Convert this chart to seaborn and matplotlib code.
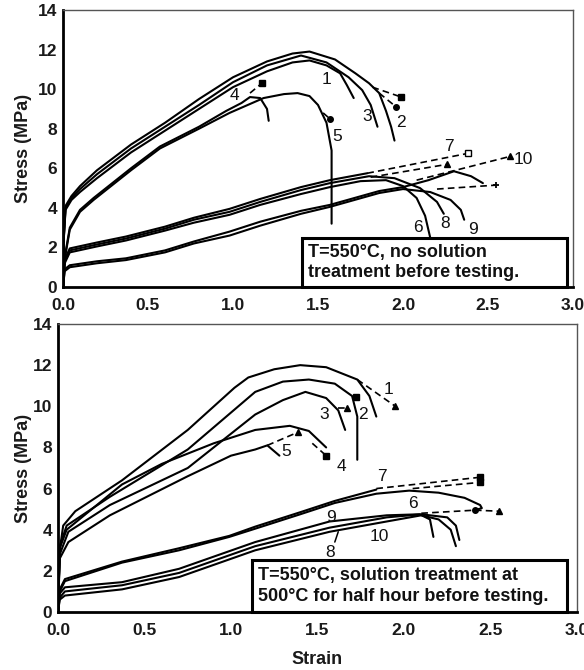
import matplotlib
matplotlib.use("Agg")
import matplotlib.pyplot as plt
from matplotlib.patches import Rectangle
import seaborn as sns

# ---------------- T=550C, no solution treatment (upper panel) ----------------
a1_strain = [0, 0.005, 0.015, 0.05, 0.1, 0.2, 0.4, 0.6, 0.8, 1.0, 1.2, 1.35, 1.45, 1.55, 1.63, 1.67, 1.71]
a1_stress = [0, 2.5, 3.9, 4.4, 4.8, 5.5, 6.8, 7.9, 9.0, 10.1, 10.9, 11.35, 11.45, 11.2, 10.8, 10.2, 9.55]
a2_strain = [0, 0.005, 0.015, 0.05, 0.1, 0.2, 0.4, 0.6, 0.8, 1.0, 1.2, 1.35, 1.45, 1.6, 1.72, 1.8, 1.86, 1.9, 1.93, 1.95]
a2_stress = [0, 2.6, 4.1, 4.6, 5.1, 5.9, 7.2, 8.3, 9.5, 10.6, 11.4, 11.8, 11.9, 11.5, 10.8, 10.3, 9.8, 8.9, 8.1, 7.4]
a3_strain = [0, 0.005, 0.015, 0.05, 0.1, 0.2, 0.4, 0.6, 0.8, 1.0, 1.2, 1.4, 1.55, 1.68, 1.76, 1.81, 1.85]
a3_stress = [0, 2.5, 4.0, 4.5, 4.95, 5.7, 7.0, 8.1, 9.2, 10.35, 11.2, 11.7, 11.35, 10.6, 9.95, 9.2, 8.1]
a4_strain = [0, 0.01, 0.04, 0.1, 0.18, 0.4, 0.57, 0.8, 0.96, 1.05, 1.1, 1.16, 1.2, 1.21]
a4_stress = [0, 1.5, 3.0, 3.9, 4.5, 6.0, 7.1, 8.1, 8.9, 9.3, 9.6, 9.55, 9.0, 8.4]
a5_strain = [0, 0.01, 0.04, 0.1, 0.18, 0.4, 0.57, 0.8, 0.98, 1.18, 1.3, 1.38, 1.45, 1.5, 1.55, 1.58, 1.58]
a5_stress = [0, 1.4, 2.9, 3.8, 4.4, 5.9, 7.0, 8.0, 8.8, 9.55, 9.75, 9.8, 9.65, 9.2, 8.3, 6.9, 3.2]
a6_strain = [0, 0.01, 0.04, 0.2, 0.37, 0.6, 0.77, 0.98, 1.16, 1.4, 1.57, 1.75, 1.9, 2.0, 2.08, 2.13, 2.16]
a6_stress = [0, 1.2, 1.75, 2.05, 2.35, 2.85, 3.25, 3.65, 4.15, 4.7, 5.05, 5.35, 5.4, 5.1, 4.5, 3.6, 2.5]
a7_strain = [0, 0.01, 0.04, 0.2, 0.37, 0.6, 0.77, 0.98, 1.16, 1.4, 1.57, 1.79]
a7_stress = [0, 1.4, 1.95, 2.25, 2.55, 3.05, 3.5, 3.95, 4.45, 5.05, 5.4, 5.75]
a8_strain = [0, 0.01, 0.04, 0.2, 0.37, 0.6, 0.77, 0.98, 1.16, 1.4, 1.57, 1.8, 1.95, 2.1, 2.2, 2.24]
a8_stress = [0, 1.3, 1.85, 2.15, 2.45, 2.95, 3.4, 3.8, 4.3, 4.9, 5.25, 5.6, 5.5, 5.0, 4.3, 3.7]
a9_strain = [0, 0.01, 0.04, 0.2, 0.37, 0.6, 0.77, 0.98, 1.16, 1.4, 1.57, 1.86, 2.0, 2.16, 2.28, 2.34, 2.36]
a9_stress = [0, 0.8, 1.0, 1.2, 1.36, 1.75, 2.2, 2.6, 3.1, 3.7, 4.05, 4.75, 4.95, 4.8, 4.4, 3.9, 3.4]
a10_strain = [0, 0.01, 0.04, 0.2, 0.37, 0.6, 0.77, 0.98, 1.16, 1.4, 1.57, 1.86, 2.0, 2.15, 2.3, 2.4, 2.47]
a10_stress = [0, 0.9, 1.1, 1.3, 1.45, 1.85, 2.3, 2.8, 3.3, 3.85, 4.15, 4.85, 5.05, 5.4, 5.85, 5.6, 5.25]

# broken-off extensions: start strain/stress, end strain/stress, end marker
a_ext_x0 = [1.82, 1.86, 1.10, 1.53, 1.79, 1.81, 2.08, 2.20]
a_ext_y0 = [10.1, 9.8, 9.8, 8.8, 5.75, 5.55, 5.4, 4.95]
a_ext_x1 = [1.99, 1.96, 1.17, 1.57, 2.38, 2.26, 2.63, 2.55]
a_ext_y1 = [9.6, 9.1, 10.3, 8.5, 6.75, 6.2, 6.6, 5.15]
a_ext_mk = ["s", "o", "s", "o", "s_open", "^", "^", "+"]

a_lab = ["1", "2", "3", "4", "5", "6", "7", "8", "9", "10"]
a_lab_x = [1.55, 1.99, 1.79, 1.01, 1.61, 2.09, 2.27, 2.25, 2.41, 2.71]
a_lab_y = [10.5, 8.3, 8.6, 9.7, 7.6, 3.0, 7.1, 3.2, 2.9, 6.45]

# ------- T=550C, solution treatment at 500C for half hour (lower panel) -------
b1_strain = [0, 0.01, 0.03, 0.1, 0.37, 0.75, 1.02, 1.1, 1.25, 1.4, 1.55, 1.73, 1.8, 1.84]
b1_stress = [0, 3.0, 4.2, 4.9, 6.4, 8.85, 10.9, 11.4, 11.8, 12.0, 11.9, 11.3, 10.5, 9.5]
b2_strain = [0, 0.01, 0.05, 0.3, 0.75, 1.14, 1.3, 1.45, 1.6, 1.7, 1.73, 1.73]
b2_stress = [0, 3.2, 4.2, 5.6, 7.9, 10.7, 11.2, 11.3, 11.1, 10.5, 9.5, 7.4]
b3_strain = [0, 0.01, 0.06, 0.3, 0.75, 1.14, 1.3, 1.43, 1.55, 1.62, 1.66]
b3_stress = [0, 2.8, 3.9, 5.2, 7.0, 9.6, 10.3, 10.7, 10.4, 9.8, 8.85]
b4_strain = [0, 0.01, 0.05, 0.37, 0.6, 0.9, 1.14, 1.34, 1.45, 1.55]
b4_stress = [0, 3.1, 4.0, 6.2, 7.2, 8.2, 8.85, 9.05, 8.8, 8.0]
b5_strain = [0, 0.01, 0.06, 0.3, 0.75, 1.0, 1.14, 1.21, 1.28]
b5_stress = [0, 2.6, 3.4, 4.7, 6.6, 7.6, 7.9, 8.1, 7.6]
b6_strain = [0, 0.01, 0.04, 0.37, 0.7, 0.99, 1.14, 1.4, 1.6, 1.84, 2.03, 2.2, 2.35, 2.44, 2.45, 2.41]
b6_stress = [0, 1.0, 1.5, 2.4, 3.0, 3.65, 4.05, 4.75, 5.3, 5.75, 5.9, 5.8, 5.55, 5.2, 5.05, 4.95]
b7_strain = [0, 0.01, 0.04, 0.37, 0.7, 0.99, 1.14, 1.4, 1.6, 1.84]
b7_stress = [0, 1.1, 1.6, 2.45, 3.1, 3.7, 4.15, 4.85, 5.4, 5.95]
b8_strain = [0, 0.01, 0.04, 0.37, 0.7, 1.14, 1.57, 1.9, 2.1, 2.2, 2.27, 2.3]
b8_stress = [0, 0.6, 0.8, 1.1, 1.7, 3.0, 3.9, 4.4, 4.7, 4.5, 4.0, 3.2]
b9_strain = [0, 0.01, 0.04, 0.37, 0.7, 1.14, 1.57, 1.9, 2.09, 2.15, 2.17]
b9_stress = [0, 0.9, 1.2, 1.45, 2.1, 3.4, 4.4, 4.7, 4.75, 4.5, 3.65]
b10_strain = [0, 0.01, 0.04, 0.37, 0.7, 1.14, 1.57, 1.9, 2.1, 2.25, 2.3, 2.32]
b10_stress = [0, 0.7, 1.0, 1.3, 1.9, 3.2, 4.1, 4.6, 4.75, 4.6, 4.2, 3.5]

b_ext_x0 = [1.73, 1.70, 1.62, 1.21, 1.47, 1.84, 2.05, 2.41, 2.10]
b_ext_y0 = [11.3, 10.45, 9.9, 8.1, 8.2, 6.0, 6.0, 4.95, 4.8]
b_ext_x1 = [1.95, 1.72, 1.67, 1.39, 1.55, 2.44, 2.44, 2.55, 2.41]
b_ext_y1 = [10.0, 10.45, 9.9, 8.75, 7.6, 6.55, 6.3, 4.9, 4.95]
b_ext_mk = ["^", "s", "^", "^", "s", "s", "s", "^", "o"]

b_lab = ["1", "2", "3", "4", "5", "6", "7", "8", "9", "10"]
b_lab_x = [1.91, 1.76, 1.54, 1.64, 1.32, 2.05, 1.87, 1.57, 1.58, 1.86]
b_lab_y = [10.8, 9.6, 9.6, 7.05, 7.8, 5.25, 6.6, 2.9, 4.6, 3.65]

x_ticks = [0.0, 0.5, 1.0, 1.5, 2.0, 2.5, 3.0]
y_ticks = [0, 2, 4, 6, 8, 10, 12, 14]

sns.set_style("white")
plt.rcParams["font.family"] = ["Liberation Sans", "DejaVu Sans"]

W, H = 584, 670
fig = plt.figure(figsize=(W / 100, H / 100), dpi=100)


def px_axes(l, r, t, b):
    return fig.add_axes([l / W, 1 - b / H, (r - l) / W, (b - t) / H])


ax_top = px_axes(63, 573, 10, 287)
ax_bot = px_axes(58, 577, 324, 612)


def draw_panel(ax, curves, ext, labels, box_lines, box_frac, ylab_x):
    for sx, sy in curves:
        sns.lineplot(x=sx, y=sy, sort=False, estimator=None, color="black",
                     linewidth=1.5, ax=ax)
    x0, y0, x1, y1, mk = ext
    for i in range(len(x0)):
        sns.lineplot(x=[x0[i], x1[i]], y=[y0[i], y1[i]], sort=False, estimator=None,
                     color="black", linewidth=1.2, linestyle=(0, (4, 2.5)), ax=ax)
        m = mk[i]
        if m == "s_open":
            ax.plot(x1[i], y1[i], marker="s", ms=4.5, mfc="white", mec="black", mew=1)
        elif m == "+":
            ax.plot(x1[i], y1[i], marker="+", ms=5, color="black", mew=1.3)
        else:
            ax.plot(x1[i], y1[i], marker=m, ms=4, color="black")
    lab, lx, ly = labels
    for t, x, y in zip(lab, lx, ly):
        ax.text(x, y, t, fontsize=12.5, ha="center", va="center", color="#111111")

    ax.set_xlim(0, 3.0)
    ax.set_ylim(0, 14)
    ax.set_xticks(x_ticks)
    ax.set_xticklabels([f"{v:.1f}" for v in x_ticks])
    ax.set_yticks(y_ticks)
    ax.set_xticks([0.25 * k for k in range(13)], minor=True)
    ax.set_yticks(list(range(15)), minor=True)
    ax.tick_params(which="both", direction="in", length=4, width=1, colors="black",
                   labelsize=12.5, top=False, right=False)
    ax.tick_params(axis="x", which="major", pad=8)
    ax.tick_params(axis="y", which="major", pad=4)
    for lbl in ax.get_xticklabels() + ax.get_yticklabels():
        lbl.set_fontweight("bold")
        lbl.set_color("#1a1a1a")
    ax.set_xlabel("")
    ax.set_ylabel("Stress (MPa)", fontsize=13, fontweight="bold", color="#1a1a1a")
    ax.yaxis.set_label_coords(ylab_x, 0.5)
    for side in ("left", "bottom"):
        ax.spines[side].set_linewidth(2.0)
        ax.spines[side].set_color("black")
    for side in ("top", "right"):
        ax.spines[side].set_linewidth(1.0)
        ax.spines[side].set_color("#555555")

    bx0, bx1, by1 = box_frac
    ax.add_patch(Rectangle((bx0, 0.0), bx1 - bx0, by1, transform=ax.transAxes,
                           facecolor="white", edgecolor="black", linewidth=2.2,
                           zorder=5, clip_on=False))
    ax.text(bx0 + 0.012, by1 / 2, box_lines, transform=ax.transAxes, fontsize=13,
            fontweight="bold", ha="left", va="center", linespacing=1.25,
            color="#111111", zorder=6)


draw_panel(ax_top,
           [(a1_strain, a1_stress), (a2_strain, a2_stress), (a3_strain, a3_stress),
            (a4_strain, a4_stress), (a5_strain, a5_stress), (a6_strain, a6_stress),
            (a7_strain, a7_stress), (a8_strain, a8_stress), (a9_strain, a9_stress),
            (a10_strain, a10_stress)],
           (a_ext_x0, a_ext_y0, a_ext_x1, a_ext_y1, a_ext_mk),
           (a_lab, a_lab_x, a_lab_y),
           "T=550°C, no solution\ntreatment before testing.",
           ((302 - 63) / 510, (567 - 63) / 510, (287 - 238) / 277),
           -(63 - 32) / 510)

draw_panel(ax_bot,
           [(b1_strain, b1_stress), (b2_strain, b2_stress), (b3_strain, b3_stress),
            (b4_strain, b4_stress), (b5_strain, b5_stress), (b6_strain, b6_stress),
            (b7_strain, b7_stress), (b8_strain, b8_stress), (b9_strain, b9_stress),
            (b10_strain, b10_stress)],
           (b_ext_x0, b_ext_y0, b_ext_x1, b_ext_y1, b_ext_mk),
           (b_lab, b_lab_x, b_lab_y),
           "T=550°C, solution treatment at\n500°C for half hour before testing.",
           ((252 - 58) / 519, (567 - 58) / 519, (612 - 560) / 288),
           -(58 - 32) / 519)

# pointer tick between labels 9 and 8 in the lower panel
sns.lineplot(x=[1.62, 1.60], y=[3.9, 3.4], sort=False, estimator=None, color="black",
             linewidth=1.1, ax=ax_bot)

ax_bot.set_xlabel("Strain", fontsize=13, fontweight="bold", color="#1a1a1a", labelpad=9)

fig.savefig("out.png", dpi=100, facecolor="white")
